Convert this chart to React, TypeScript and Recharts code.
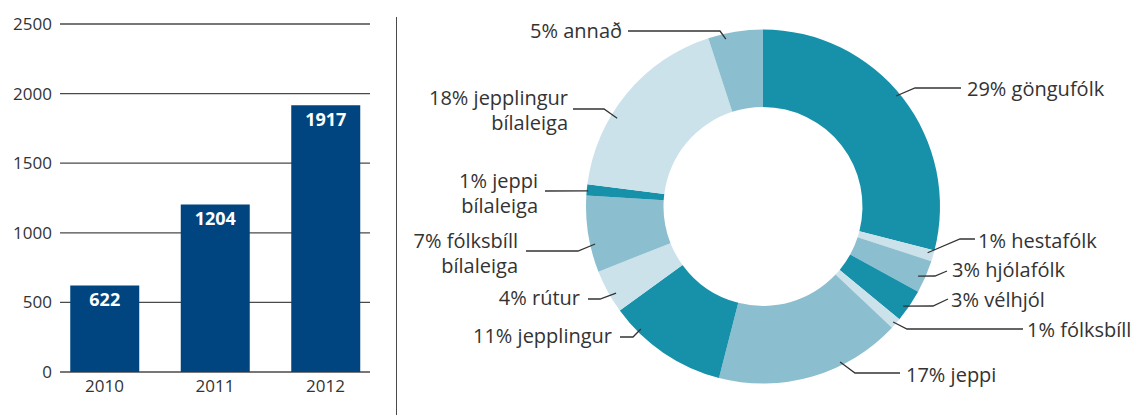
import { BarChart, Bar, XAxis, YAxis, CartesianGrid, LabelList, PieChart, Pie, Cell } from 'recharts';

const years = ['2010', '2011', '2012'];
const visitors = [622, 1204, 1917];
const yTicks = [0, 500, 1000, 1500, 2000, 2500];

const groups = [
  'göngufólk', 'hestafólk', 'hjólafólk', 'vélhjól', 'fólksbíll', 'jeppi',
  'jepplingur', 'rútur', 'fólksbíll bílaleiga', 'jeppi bílaleiga',
  'jepplingur bílaleiga', 'annað',
];
const shares = [29, 1, 3, 3, 1, 17, 11, 4, 7, 1, 18, 5];

const FONT = "'Open Sans', sans-serif";
const INK = '#333';
const DARK = '#1791aa';
const MID = '#8bbfcf';
const LIGHT = '#cbe2eb';
const SLICE_COLORS = [DARK, LIGHT, MID, DARK, LIGHT, MID, DARK, LIGHT, MID, DARK, LIGHT, MID];

// leader lines: start sits on the slice (angle nudge da, radius r), then the elbow points
const LEADERS: { da: number; r: number; pts: number[][]; tx: number; ty: number; anchor: 'start' | 'end' }[] = [
  { da: -1.9, r: 173, pts: [[915, 88], [961, 88]], tx: 967, ty: 96, anchor: 'start' },
  { da: -0.5, r: 171, pts: [[960, 239], [975, 239]], tx: 978, ty: 248, anchor: 'start' },
  { da: 0.8, r: 170, pts: [[935, 276], [947, 271]], tx: 952, ty: 277, anchor: 'start' },
  { da: 1.2, r: 172, pts: [[933, 306], [948, 299]], tx: 951, ty: 307, anchor: 'start' },
  { da: 0.2, r: 174, pts: [[907, 329], [1023, 329]], tx: 1027, ty: 337, anchor: 'start' },
  { da: -10.2, r: 173.5, pts: [[855, 373], [900, 373]], tx: 906, ty: 382, anchor: 'start' },
  { da: 10.7, r: 173, pts: [[633, 337], [620, 337]], tx: 612, ty: 343, anchor: 'end' },
  { da: -1.7, r: 170.5, pts: [[600, 299], [588, 299]], tx: 580, ty: 305, anchor: 'end' },
  { da: -3.6, r: 172, pts: [[578, 251], [526, 251]], tx: 518, ty: 248, anchor: 'end' },
  { da: -0.3, r: 175.5, pts: [[545, 191]], tx: 538, ty: 188, anchor: 'end' },
  { da: -8.4, r: 170.5, pts: [[604, 109], [573, 109]], tx: 568, ty: 105, anchor: 'end' },
  { da: -3.5, r: 171.5, pts: [[720, 31], [628, 31]], tx: 622, ty: 38, anchor: 'end' },
];

const barData = years.map((year, i) => ({ year, visitors: visitors[i] }));
const pieData = groups.map((name, i) => ({ name, value: shares[i] }));

const renderLabel = (props: any) => {
  const { cx, cy, midAngle, index } = props;
  const l = LEADERS[index];
  const theta = ((90 - midAngle + l.da) * Math.PI) / 180;
  const sx = cx + l.r * Math.sin(theta);
  const sy = cy - l.r * Math.cos(theta);
  const points = [[sx, sy], ...l.pts].map(p => p.join(',')).join(' ');
  const name = groups[index];
  const lines = name.endsWith(' bílaleiga')
    ? [`${shares[index]}% ${name.replace(' bílaleiga', '')}`, 'bílaleiga']
    : [`${shares[index]}% ${name}`];
  return (
    <g key={`lbl-${index}`}>
      <polyline points={points} fill='none' stroke={INK} strokeWidth={1.3} />
      <text x={l.tx} y={l.ty} textAnchor={l.anchor} fill={INK} fontSize={20} fontFamily={FONT}>
        {lines.map((t, i) => (
          <tspan key={i} x={l.tx} dy={i === 0 ? 0 : 24.5}>{t}</tspan>
        ))}
      </text>
    </g>
  );
};

export default function App() {
  return (
    <div style={{ position: 'absolute', left: 0, top: 0, width: 1137, height: 415, background: '#fff', fontFamily: FONT }}>
      <div style={{ position: 'absolute', left: 0, top: 0 }}>
        <BarChart width={397} height={415} data={barData} margin={{ top: 24, right: 27, left: 0, bottom: 13 }}>
          <CartesianGrid vertical={false} stroke='#4a4a4a' strokeWidth={1.3} />
          <XAxis
            dataKey='year'
            axisLine={false}
            tickLine={false}
            height={30}
            interval={0}
            padding={{ left: -10.75, right: -10.75 }}
            tick={{ fill: INK, fontSize: 17 }}
          />
          <YAxis
            domain={[0, 2500]}
            ticks={yTicks}
            interval={0}
            axisLine={false}
            tickLine={false}
            width={60}
            tick={{ fill: INK, fontSize: 17 }}
          />
          <Bar dataKey='visitors' fill='#00457f' barSize={69} isAnimationActive={false}>
            <LabelList dataKey='visitors' position='insideTop' offset={8} fill='#fff' fontSize={18} fontWeight={700} />
          </Bar>
        </BarChart>
      </div>

      <div style={{ position: 'absolute', left: 396, top: 17, width: 1.3, height: 398, background: '#4a4a4a' }} />

      <div style={{ position: 'absolute', left: 0, top: 0 }}>
        <PieChart width={1137} height={415} margin={{ top: 0, right: 0, bottom: 0, left: 0 }}>
          <Pie
            data={pieData}
            dataKey='value'
            cx={763}
            cy={206.5}
            innerRadius={99.5}
            outerRadius={177}
            startAngle={90}
            endAngle={-270}
            stroke='none'
            label={renderLabel}
            labelLine={false}
            isAnimationActive={false}
          >
            {pieData.map((_, i) => (
              <Cell key={i} fill={SLICE_COLORS[i]} />
            ))}
          </Pie>
        </PieChart>
      </div>
    </div>
  );
}
